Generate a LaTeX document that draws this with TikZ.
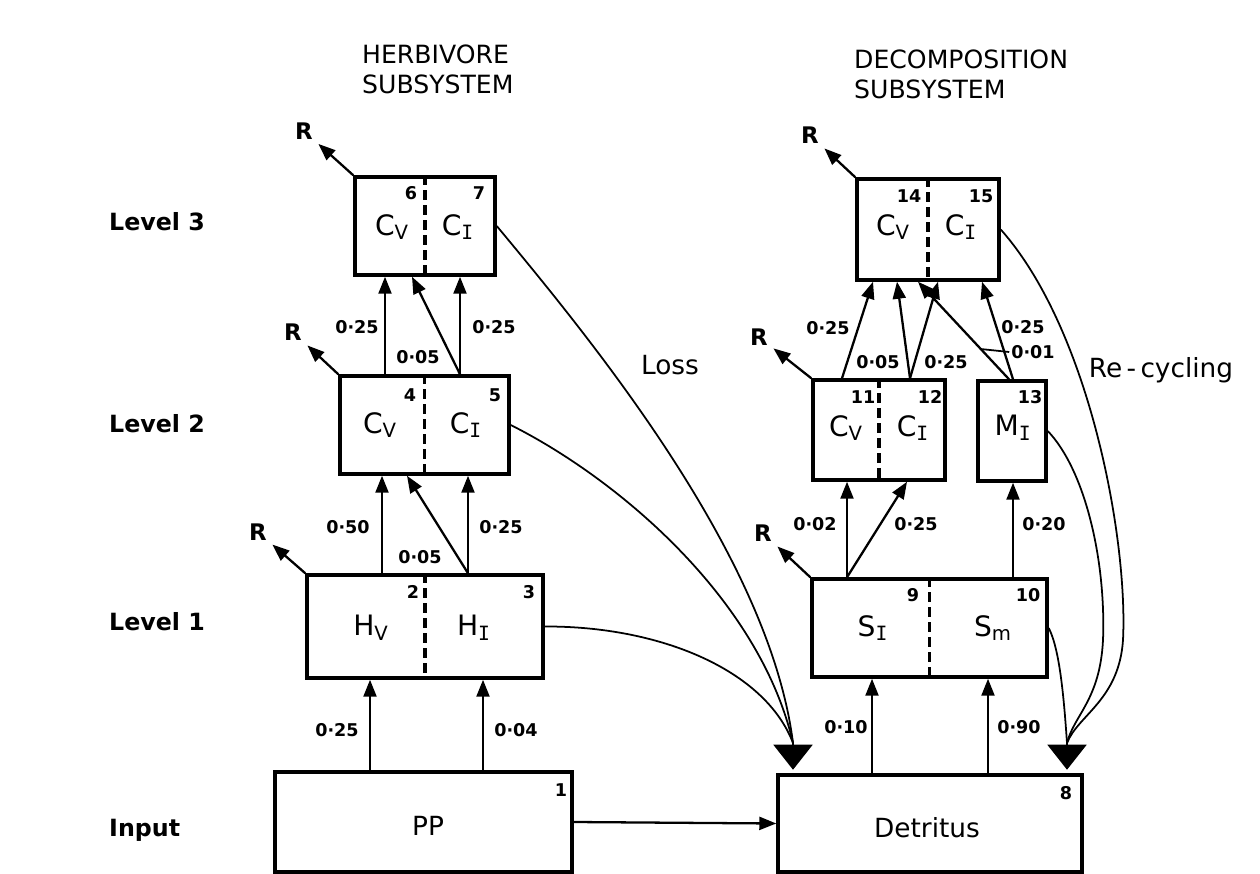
\documentclass[tikz,border=0pt]{standalone}
\usepackage{fontspec}
\setmainfont{DejaVu Sans}
\setmonofont{DejaVu Sans Mono}
\usepackage{tikz}
\usetikzlibrary{calc}
\usetikzlibrary{arrows.meta}
\tikzstyle{every node}=[font=\fontsize{11}{13}\selectfont]
\tikzstyle{box}=[draw, line width=2pt, inner sep=0pt]
\tikzstyle{lab}=[font=\fontsize{16}{18}\selectfont]
\tikzstyle{big}=[font=\fontsize{15}{18}\selectfont]
\tikzstyle{num}=[font=\bfseries\fontsize{10}{12}\selectfont]
\tikzstyle{rate}=[font=\bfseries\fontsize{10}{12}\selectfont, inner sep=1pt]
\tikzstyle{lvl}=[font=\bfseries\fontsize{13.5}{16}\selectfont, anchor=west]
\tikzstyle{ttl}=[font=\fontsize{14.3}{17}\selectfont, anchor=west, align=left]
\tikzstyle{rnode}=[font=\bfseries\fontsize{13}{15}\selectfont, inner sep=3pt]
\tikzstyle{flow}=[line width=1.3pt, -{Triangle[length=0.34cm,width=0.26cm]}]
\tikzstyle{divider}=[line width=2pt, dash pattern=on 0.2cm off 0.1cm]
\tikzstyle{back}=[line width=1pt]
\tikzstyle{bighead}=[line width=1pt, shorten >=2pt, -{Triangle[length=0.5cm,width=0.78cm]}]
\newcommand{\sbI}{\textsubscript{\ttfamily I}}
\newcommand{\sbV}{\textsubscript{V}}

\begin{document}
\begin{tikzpicture}[x=0.02cm, y=-0.02cm]
\useasboundingbox (0,0) rectangle (1260,874);

% titles and levels
\node[ttl] (thb) at (356,69) {HERBIVORE\\SUBSYSTEM};
\node[ttl] (tdc) at (848,74) {DECOMPOSITION\\SUBSYSTEM};
\node[lvl] (lv3) at (103,222) {Level 3};
\node[lvl] (lv2) at (103,424) {Level 2};
\node[lvl] (lv1) at (103,622) {Level 1};
\node[lvl] (lv0) at (103,830) {Input};

% herbivore boxes
\node[box, minimum width=2.8cm, minimum height=1.96cm] (h3) at (425,226) {};
\node[box, minimum width=3.38cm, minimum height=1.96cm] (h2) at (424.5,425) {};
\node[box, minimum width=4.72cm, minimum height=2.06cm] (h1) at (425,626.5) {};
\node[box, minimum width=5.94cm, minimum height=2.0cm] (pp) at (423.5,822) {};
\draw[divider] (h3.north) -- (h3.south);
\draw[divider] (h2.north) -- (h2.south);
\draw[divider] (h1.north) -- (h1.south);

\node[lab] (t6) at (392,227) {C\sbV};
\node[lab] (t7) at (458,227) {C\sbI};
\node[num] (n6) at (411,193) {6};
\node[num] (n7) at (479,193) {7};
\node[lab] (t4) at (380,425) {C\sbV};
\node[lab] (t5) at (466,425) {C\sbI};
\node[num] (n4) at (410,395) {4};
\node[num] (n5) at (495,395) {5};
\node[lab] (t2) at (371,628) {H\sbV};
\node[lab] (t3) at (474,628) {H\sbI};
\node[num] (n2) at (413,592) {2};
\node[num] (n3) at (529,592) {3};
\node[big] (tpp) at (428,826) {PP};
\node[num] (n1) at (561,790) {1};

% decomposition boxes
\node[box, minimum width=2.84cm, minimum height=2.02cm] (d3) at (928,229.5) {};
\node[box, minimum width=2.64cm, minimum height=2.0cm] (d2) at (879,430) {};
\node[box, minimum width=1.36cm, minimum height=2.0cm] (m13) at (1012,431) {};
\node[box, minimum width=4.7cm, minimum height=1.96cm] (d1) at (929.5,628) {};
\node[box, minimum width=6.08cm, minimum height=1.94cm] (det) at (930,823.5) {};
\draw[divider] (d3.north) -- (d3.south);
\draw[divider] (d2.north) -- (d2.south);
\draw[divider] (d1.north) -- (d1.south);

\node[lab] (t14) at (893,227) {C\sbV};
\node[lab] (t15) at (961,227) {C\sbI};
\node[num] (n14) at (909,196) {14};
\node[num] (n15) at (981,196) {15};
\node[lab] (t11) at (846,428) {C\sbV};
\node[lab] (t12) at (913,428) {C\sbI};
\node[num] (n11) at (863,397) {11};
\node[num] (n12) at (930,397) {12};
\node[lab] (t13) at (1013,428) {M\sbI};
\node[num] (n13) at (1030,397) {13};
\node[lab] (t9) at (873,628) {S\sbI};
\node[lab] (t10) at (993,628) {S\textsubscript{m}};
\node[num] (n9) at (913,595) {9};
\node[num] (n10) at (1028,595) {10};
\node[big] (tdet) at (927,828) {Detritus};
\node[num] (n8) at (1066,793) {8};

% arrow columns
\coordinate (c1) at (370,0);
\coordinate (c2) at (483,0);
\coordinate (c3) at (382,0);
\coordinate (c4) at (468,0);
\coordinate (c5) at (407,0);
\coordinate (c6) at (385,0);
\coordinate (c7) at (460,0);
\coordinate (c8) at (412,0);
\coordinate (c9) at (872,0);
\coordinate (c10) at (988,0);
\coordinate (c11) at (847,0);
\coordinate (c12) at (907,0);
\coordinate (c13) at (1013,0);
\coordinate (c14) at (842,0);
\coordinate (c15) at (873,0);
\coordinate (c16) at (910,0);
\coordinate (c17) at (897,0);
\coordinate (c18) at (938,0);
\coordinate (c19) at (1009,0);
\coordinate (c20) at (918,0);
\coordinate (c21) at (982,0);

% herbivore flows
\draw[flow] (pp.north -| c1) -- (h1.south -| c1);
\draw[flow] (pp.north -| c2) -- (h1.south -| c2);
\draw[flow] (h1.north -| c3) -- (h2.south -| c3);
\draw[flow] (h1.north -| c4) -- (h2.south -| c5);
\draw[flow] (h1.north -| c4) -- (h2.south -| c4);
\draw[flow] (h2.north -| c6) -- (h3.south -| c6);
\draw[flow] (h2.north -| c7) -- (h3.south -| c8);
\draw[flow] (h2.north -| c7) -- (h3.south -| c7);
\node[rate] (l1) at (337,730) {0·25};
\node[rate] (l2) at (516,730) {0·04};
\node[rate] (l3) at (348,527) {0·50};
\node[rate] (l4) at (420,557) {0·05};
\node[rate] (l5) at (501,527) {0·25};
\node[rate] (l6) at (357,327) {0·25};
\node[rate] (l7) at (418,357) {0·05};
\node[rate] (l8) at (494,327) {0·25};

% decomposition flows
\draw[flow] (det.north -| c9) -- (d1.south -| c9);
\draw[flow] (det.north -| c10) -- (d1.south -| c10);
\draw[flow] (d1.north -| c11) -- (d2.south -| c11);
\draw[flow] (d1.north -| c11) -- (d2.south -| c12);
\draw[flow] (d1.north -| c13) -- (m13.south -| c13);
\draw[flow] (d2.north -| c14) -- (d3.south -| c15);
\draw[flow] (d2.north -| c16) -- (d3.south -| c17);
\draw[flow] (d2.north -| c16) -- (d3.south -| c18);
\draw[flow] (m13.north -| c19) -- coordinate[pos=0.31] (k01) (d3.south -| c20);
\draw[flow] (m13.north -| c13) -- (d3.south -| c21);
\node[rate] (l9) at (846,727) {0·10};
\node[rate] (l10) at (1019,727) {0·90};
\node[rate] (l11) at (815,524) {0·02};
\node[rate] (l12) at (916,524) {0·25};
\node[rate] (l13) at (1044,524) {0·20};
\node[rate] (l14) at (828,328) {0·25};
\node[rate] (l15) at (878,362) {0·05};
\node[rate] (l16) at (946,362) {0·25};
\node[rate] (l17) at (1023,327) {0·25};
\node[rate] (l18) at (1033,352) {0·01};
\draw[back] (k01) -- (l18.west);

% respiration
\node[rnode] (r3) at (304,131) {R};
\node[rnode] (r2) at (293,332) {R};
\node[rnode] (r1) at (258,532) {R};
\node[rnode] (r14) at (810,135) {R};
\node[rnode] (r11) at (759,337) {R};
\node[rnode] (r9) at (763,533) {R};
\draw[flow] (h3.north west) -- (r3);
\draw[flow] (h2.north west) -- (r2);
\draw[flow] (h1.north west) -- (r1);
\draw[flow] (d3.north west) -- (r14);
\draw[flow] (d2.north west) -- (r11);
\draw[flow] (d1.north west) -- (r9);

% loss to detritus
\coordinate (lossj) at (793,743);
\draw[back] (h3.east) .. controls (600,350) and (770,560) .. (lossj);
\draw[back] (h2.east) .. controls (620,480) and (760,600) .. (lossj);
\draw[back] (h1.east) .. controls (660,626) and (765,670) .. (lossj);
\draw[bighead] (lossj) -- (det.north -| lossj);
\draw[flow] (pp.east) -- (det.west);
\node[big] (loss) at (670,365) {Loss};

% re-cycling
\coordinate (recj) at (1067,743);
\draw[back] (d3.east) .. controls (1090,330) and (1128,540) .. (1123,640) .. controls (1119,700) and (1078,715) .. (recj);
\draw[back] (m13.east) .. controls (1085,470) and (1106,560) .. (1103,640) .. controls (1100,700) and (1074,715) .. (recj);
\draw[back] (d1.east) .. controls (1060,650) and (1064,700) .. (recj);
\draw[bighead] (recj) -- (det.north -| recj);
\node[big] (recy) at (1161,370) {Re\,-\,cycling};
\end{tikzpicture}
\end{document}
